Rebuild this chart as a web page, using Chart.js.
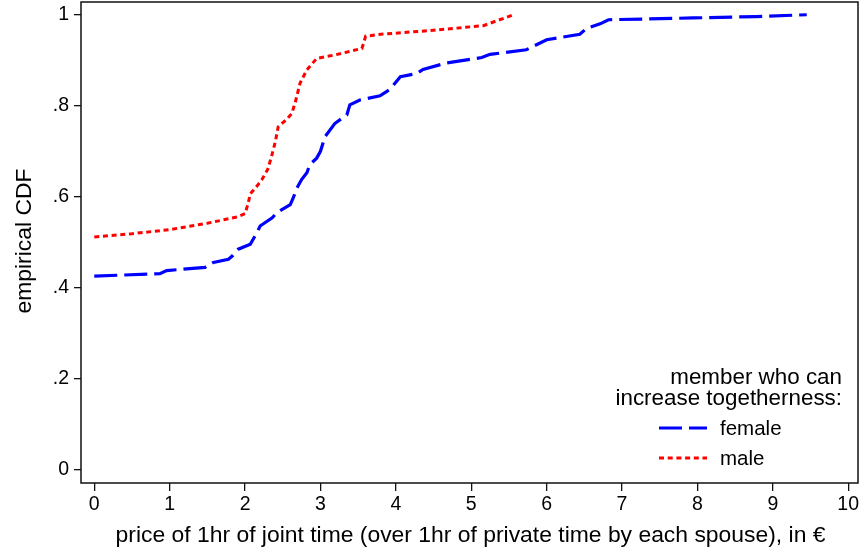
<!DOCTYPE html>
<html>
<head>
<meta charset="utf-8">
<script src="https://cdn.jsdelivr.net/npm/chart.js@4/dist/chart.umd.min.js"></script>
<style>
  html, body { margin: 0; padding: 0; background: #fff; }
  #wrap { width: 859px; height: 552px; }
</style>
</head>
<body>
<div id="wrap"><canvas id="c" width="859" height="552"></canvas></div>
<script>
// Empirical CDFs of the price of joint time, by spouse who can increase togetherness
const femaleX = [0, 0.87, 0.96, 1.47, 1.58, 1.78, 1.83, 1.91, 2.07, 2.16, 2.2, 2.36, 2.42, 2.6, 2.64, 2.69, 2.75, 2.82, 2.86, 2.95, 3.0, 3.06, 3.19, 3.35, 3.39, 3.53, 3.79, 3.92, 4.06, 4.28, 4.36, 4.67, 5.14, 5.25, 5.73, 6.0, 6.44, 6.53, 6.71, 6.82, 7.94, 8.78, 9.45];
const femaleY = [0.426, 0.431, 0.438, 0.445, 0.456, 0.463, 0.470, 0.485, 0.496, 0.522, 0.536, 0.554, 0.565, 0.583, 0.598, 0.620, 0.638, 0.653, 0.671, 0.685, 0.700, 0.732, 0.761, 0.780, 0.802, 0.813, 0.822, 0.836, 0.864, 0.871, 0.880, 0.894, 0.906, 0.913, 0.923, 0.945, 0.957, 0.970, 0.980, 0.989, 0.993, 0.996, 1.0];

const maleX = [0, 0.5, 1.0, 1.5, 1.9, 2.0, 2.04, 2.07, 2.15, 2.22, 2.3, 2.35, 2.4, 2.44, 2.55, 2.62, 2.67, 2.73, 2.82, 2.95, 3.2, 3.55, 3.6, 3.8, 4.5, 5.16, 5.56];
const maleY = [0.512, 0.519, 0.528, 0.542, 0.556, 0.563, 0.585, 0.607, 0.622, 0.637, 0.660, 0.688, 0.720, 0.754, 0.770, 0.783, 0.810, 0.850, 0.879, 0.904, 0.912, 0.926, 0.953, 0.957, 0.966, 0.976, 1.0];

const xTicks = [0, 1, 2, 3, 4, 5, 6, 7, 8, 9, 10];
const yTicks = [0, 0.2, 0.4, 0.6, 0.8, 1];
const yTickLabels = ['0', '.2', '.4', '.6', '.8', '1'];

const seriesNames = ['female', 'male'];
const legendTitle = ['member who can', 'increase togetherness:'];
const xTitle = 'price of 1hr of joint time (over 1hr of private time by each spouse), in €';
const yTitle = 'empirical CDF';

const FONT = "'Liberation Sans', Arial, sans-serif";
const BLUE = '#0000ff';
const RED = '#ff0000';
const BLUE_DASH = [23, 7];
const RED_DASH = [5, 3.7];

const toPoints = (xs, ys) => xs.map((x, i) => ({ x: x, y: ys[i] }));

// Frame, axis titles and the in-plot legend
const decor = {
  id: 'decor',
  afterDraw(chart) {
    const ctx = chart.ctx;
    const a = chart.chartArea;
    ctx.save();
    ctx.strokeStyle = '#111';
    ctx.lineWidth = 1.5;
    ctx.strokeRect(a.left, a.top, a.right - a.left, a.bottom - a.top);

    ctx.fillStyle = '#000';
    ctx.font = '22.9px ' + FONT;
    ctx.textAlign = 'center';
    ctx.textBaseline = 'alphabetic';
    ctx.fillText(xTitle, 470.5, 542);

    ctx.save();
    ctx.translate(31, 241);
    ctx.rotate(-Math.PI / 2);
    ctx.fillText(yTitle, 0, 0);
    ctx.restore();

    // legend
    ctx.font = '22.4px ' + FONT;
    ctx.textAlign = 'right';
    ctx.fillText(legendTitle[0], 842, 384);
    ctx.fillText(legendTitle[1], 842, 405);

    const entries = [
      { name: seriesNames[0], color: BLUE, dash: BLUE_DASH, y: 428, w: 3.2 },
      { name: seriesNames[1], color: RED, dash: RED_DASH, y: 458, w: 3 }
    ];
    ctx.font = '20.5px ' + FONT;
    ctx.textAlign = 'left';
    ctx.textBaseline = 'middle';
    entries.forEach(e => {
      ctx.save();
      ctx.strokeStyle = e.color;
      ctx.lineWidth = e.w;
      ctx.setLineDash(e.dash);
      ctx.beginPath();
      ctx.moveTo(659, e.y);
      ctx.lineTo(707, e.y);
      ctx.stroke();
      ctx.restore();
      ctx.fillStyle = '#000';
      ctx.fillText(e.name, 720, e.y + 1);
    });
    ctx.restore();
  }
};

new Chart(document.getElementById('c'), {
  type: 'scatter',
  data: {
    datasets: [
      {
        label: seriesNames[0],
        data: toPoints(femaleX, femaleY),
        showLine: true,
        borderColor: BLUE,
        borderWidth: 3.2,
        borderDash: BLUE_DASH,
        pointRadius: 0,
        tension: 0,
        fill: false
      },
      {
        label: seriesNames[1],
        data: toPoints(maleX, maleY),
        showLine: true,
        borderColor: RED,
        borderWidth: 3,
        borderDash: RED_DASH,
        pointRadius: 0,
        tension: 0,
        fill: false
      }
    ]
  },
  options: {
    responsive: false,
    animation: false,
    devicePixelRatio: 1,
    layout: { padding: { top: 2, right: 1, left: 0, bottom: 0 } },
    plugins: { legend: { display: false }, tooltip: { enabled: false } },
    scales: {
      x: {
        type: 'linear',
        min: -0.176,
        max: 10.13,
        afterBuildTicks: s => { s.ticks = xTicks.map(v => ({ value: v })); },
        afterFit: s => { s.height = 69; s.paddingLeft = 0; s.paddingRight = 0; },
        border: { display: false },
        grid: { drawOnChartArea: false, drawTicks: true, tickLength: 8, tickColor: '#111', lineWidth: 1.3 },
        ticks: { color: '#000', font: { family: FONT, size: 19.5 }, padding: 2, maxRotation: 0, autoSkip: false,
                 callback: v => String(v) }
      },
      y: {
        type: 'linear',
        min: -0.0286,
        max: 1.028,
        afterBuildTicks: s => { s.ticks = yTicks.map(v => ({ value: v })); },
        afterFit: s => { s.width = 81; s.paddingTop = 0; s.paddingBottom = 0; },
        border: { display: false },
        grid: { drawOnChartArea: false, drawTicks: true, tickLength: 7, tickColor: '#111', lineWidth: 1.3 },
        ticks: { color: '#000', font: { family: FONT, size: 19.5 }, padding: 5, autoSkip: false,
                 callback: v => { const i = yTicks.findIndex(t => Math.abs(t - v) < 1e-9); return i >= 0 ? yTickLabels[i] : ''; } }
      }
    }
  },
  plugins: [decor]
});
</script>
</body>
</html>
